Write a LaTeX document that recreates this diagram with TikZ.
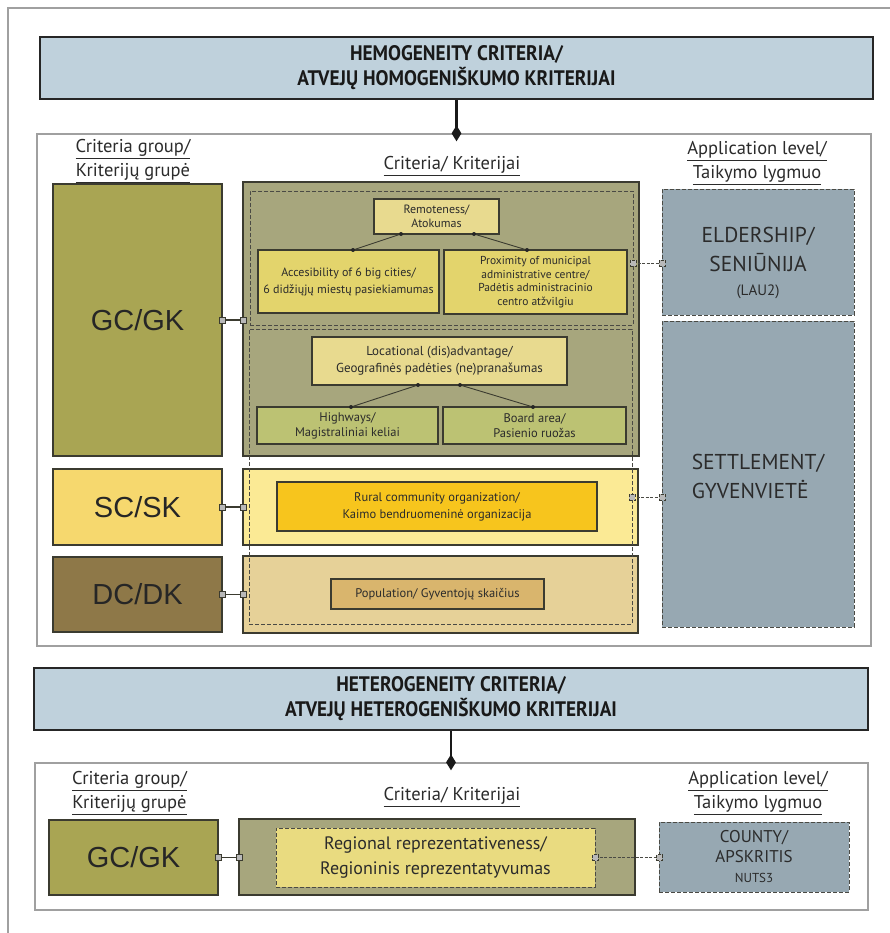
\documentclass[tikz,border=0pt]{standalone}
\usepackage{fontspec}
\setmainfont{PT Sans}
\newfontfamily\hdrfont{PT Sans}[FakeStretch=0.92]
\newfontfamily\arialf{Liberation Sans}
\usetikzlibrary{shapes.geometric,calc}
\definecolor{hdrblue}{HTML}{BFD1DC}
\definecolor{gcol}{HTML}{A9A553}
\definecolor{gcrit}{HTML}{A7A67D}
\definecolor{remc}{HTML}{E8DA8F}
\definecolor{accc}{HTML}{E3D46C}
\definecolor{hwc}{HTML}{BCC273}
\definecolor{scol}{HTML}{F6D86E}
\definecolor{scrit}{HTML}{FBEA95}
\definecolor{rural}{HTML}{F7C51D}
\definecolor{dcol}{HTML}{8E7848}
\definecolor{dcrit}{HTML}{E6D198}
\definecolor{popc}{HTML}{D9B56D}
\definecolor{lvl}{HTML}{97A8B2}
\definecolor{regc}{HTML}{E9DB80}
\definecolor{bord}{HTML}{3B3B30}
\definecolor{txt}{HTML}{2B2B2B}
\definecolor{framec}{HTML}{A0A0A0}
\definecolor{dgray}{HTML}{4A4A44}
\tikzset{
  box/.style={rectangle, draw=bord, line width=1.3pt, inner sep=0pt, outer sep=0pt, align=center, text=txt},
  hdrbox/.style={rectangle, draw=black!85, line width=2.2pt, fill=hdrblue, inner sep=0pt, align=center,
     font=\hdrfont\bfseries\fontsize{21}{25}\selectfont, text=black!90},
  contbox/.style={rectangle, draw=framec, line width=1.3pt, fill=white, inner sep=0pt},
  dashbox/.style={rectangle, draw=dgray, line width=0.8pt, dash pattern=on 4pt off 2pt, inner sep=0pt, outer sep=0pt, align=center, text=txt},
  lbl/.style={align=center, text=txt, inner sep=0pt, font=\fontsize{18.5}{24}\selectfont},
  grp/.style={font=\arialf\fontsize{29}{32}\selectfont, text=black!85},
  small/.style={font=\fontsize{12.5}{15}\selectfont},
  lvltext/.style={font=\fontsize{21.5}{29}\selectfont},
  sq/.style={rectangle, draw=bord, fill=gray!55, line width=0.9pt, minimum size=6pt, inner sep=0pt},
  dotm/.style={circle, fill=black!85, minimum size=4pt, inner sep=0pt},
  dia/.style={diamond, fill=black!90, inner sep=0pt, minimum width=10pt, minimum height=16pt},
  hline/.style={draw=black!90, line width=2.3pt},
  sline/.style={draw=bord, line width=1.6pt},
  dline/.style={draw=dgray, line width=0.8pt, dash pattern=on 3pt off 1.5pt},
  tline/.style={draw=bord, line width=0.9pt}
}
\begin{document}
\begin{tikzpicture}[x=1pt,y=-1pt]
\useasboundingbox (0,0) rectangle (890,933);
\fill[white] (0,0) rectangle (890,933);
\draw[framec, line width=1.2pt] (8,933) -- (8,8) -- (890,8);

% ---------- homogeneity ----------
\node[hdrbox, minimum width=833pt, minimum height=62pt] (h1) at (456.5,68) {HEMOGENEITY CRITERIA/\\ATVEJŲ HOMOGENIŠKUMO KRITERIJAI};
\node[contbox, minimum width=834pt, minimum height=512pt] (c1) at (454,390) {};
\node[dia] (dm1) at (h1.south |- c1.north) {};
\draw[hline] (h1.south) -- (dm1.center);

\node[lbl] (grp1) at (133,161) {\underline{Criteria group/}\\\underline{Kriterijų grupė}};
\node[lbl] (crit1) at (452,166) {\underline{Criteria/ Kriterijai}};
\node[lbl] (app1) at (757,163) {\underline{Application level/}\\\underline{Taikymo lygmuo}};

% criteria groups
\node[box, fill=gcol, minimum width=169pt, minimum height=272pt, grp] (gc) at (137.5,320) {GC/GK};
\node[box, fill=scol, minimum width=169pt, minimum height=76pt, grp] (sc) at (137.5,507) {SC/SK};
\node[box, fill=dcol, minimum width=169pt, minimum height=75pt, grp] (dc) at (137.5,594.5) {DC/DK};

% criteria
\node[box, fill=gcrit, minimum width=396pt, minimum height=274pt] (gcr) at (441,319) {};
\node[box, fill=scrit, minimum width=395pt, minimum height=76pt] (scr) at (440.5,507) {};
\node[box, fill=dcrit, minimum width=395pt, minimum height=77pt] (dcr) at (440.5,594.5) {};
\node[dashbox, minimum width=383pt, minimum height=134pt] (du) at (441.5,258) {};
\node[dashbox, minimum width=383pt, minimum height=295pt] (dl) at (440.5,476.5) {};

\node[box, fill=remc, minimum width=125pt, minimum height=35pt, font=\fontsize{12}{14}\selectfont] (rem) at (436.5,216.5) {Remoteness/\\Atokumas};
\node[box, fill=accc, minimum width=181pt, minimum height=63pt, font=\fontsize{12}{17}\selectfont] (acc) at (348.5,281.5) {Accesibility of 6 big cities/\\6 didžiųjų miestų pasiekiamumas};
\node[box, fill=accc, minimum width=183pt, minimum height=64pt, font=\fontsize{11.5}{13.7}\selectfont] (prox) at (535.5,282) {Proximity of municipal\\administrative centre/\\Padėtis administracinio\\centro atžvilgiu};
\node[box, fill=remc, minimum width=255pt, minimum height=48pt, font=\fontsize{13}{17}\selectfont] (loc) at (439.5,361) {Locational (dis)advantage/\\Geografinės padėties (ne)pranašumas};
\node[box, fill=hwc, minimum width=181pt, minimum height=37pt, small] (hw) at (347.5,425.5) {Highways/\\Magistraliniai keliai};
\node[box, fill=hwc, minimum width=183pt, minimum height=37pt, small] (bd) at (534.5,425.5) {Board area/\\Pasienio ruožas};
\node[box, fill=rural, minimum width=320pt, minimum height=49pt, font=\fontsize{12.5}{17}\selectfont] (rur) at (437,506.5) {Rural community organization/\\Kaimo bendruomeninė organizacija};
\node[box, fill=popc, minimum width=213pt, minimum height=30pt, small] (pop) at (437.5,594) {Population/ Gyventojų skaičius};

% hierarchy connectors
\draw[tline] ([xshift=27pt]rem.south west) node[dotm]{} -- ([xshift=95pt]acc.north west) node[dotm]{};
\draw[tline] ([xshift=100pt]rem.south west) node[dotm]{} -- ([xshift=83pt]prox.north west) node[dotm]{};
\draw[tline] ([xshift=106pt]loc.south west) node[dotm]{} -- ([xshift=94pt]hw.north west) node[dotm]{};
\draw[tline] ([xshift=148pt]loc.south west) node[dotm]{} -- ([xshift=90pt]bd.north west) node[dotm]{};

% application level
\node[dashbox, fill=lvl, minimum width=192pt, minimum height=126pt] (eld) at (758,252) {};
\node[lvltext, text=txt, align=center] (eldt) at (758,263) {ELDERSHIP/\\SENIŪNIJA\\[-5pt]{\fontsize{15}{18}\selectfont (LAU2)}};
\node[dashbox, fill=lvl, minimum width=192pt, minimum height=306pt] (set) at (758,474) {};
\node[lvltext, text=txt, align=left] (sett) at (758,476) {SETTLEMENT/\\GYVENVIETĖ};

% group -> criteria connectors
\draw[sline] (gc.east) node[sq]{} -- (gc.east -| gcr.west) node[sq]{};
\draw[sline] (sc.east) node[sq]{} -- (sc.east -| scr.west) node[sq]{};
\draw[sline] (dc.east) node[sq]{} -- (dc.east -| dcr.west) node[sq]{};
% criteria -> level connectors
\draw[dline] ([yshift=-5pt]du.east) node[sq]{} -- ([yshift=-5pt]du.east -| eld.west) node[sq]{};
\draw[dline] ([yshift=-20.5pt]dl.east) node[sq]{} -- ([yshift=-20.5pt]dl.east -| set.west) node[sq]{};

% ---------- heterogeneity ----------
\node[hdrbox, minimum width=834pt, minimum height=62pt] (h2) at (451,699) {HETEROGENEITY CRITERIA/\\ATVEJŲ HETEROGENIŠKUMO KRITERIJAI};
\node[contbox, minimum width=833pt, minimum height=147pt] (c2) at (451.5,836.5) {};
\node[dia] (dm2) at (h2.south |- c2.north) {};
\draw[hline] (h2.south) -- (dm2.center);

\node[lbl] (grp2) at (129.5,793) {\underline{Criteria group/}\\\underline{Kriterijų grupė}};
\node[lbl] (crit2) at (452,797) {\underline{Criteria/ Kriterijai}};
\node[lbl] (app2) at (758,793) {\underline{Application level/}\\\underline{Taikymo lygmuo}};

\node[box, fill=gcol, minimum width=169pt, minimum height=75pt, grp] (gc2) at (133.5,857.5) {GC/GK};
\node[box, fill=gcrit, minimum width=396pt, minimum height=76pt] (gcr2) at (437,857) {};
\node[dashbox, fill=regc, minimum width=319pt, minimum height=59pt, font=\fontsize{18}{25}\selectfont] (reg) at (435.5,857.5) {Regional reprezentativeness/\\Regioninis reprezentatyvumas};
\node[dashbox, fill=lvl, minimum width=190pt, minimum height=70pt, font=\fontsize{17}{20}\selectfont] (cty) at (754,857) {COUNTY/\\APSKRITIS\\{\fontsize{13}{15}\selectfont NUTS3}};

\draw[sline] (gc2.east) node[sq]{} -- (gc2.east -| gcr2.west) node[sq]{};
\draw[dline] (reg.east) node[sq]{} -- (reg.east -| cty.west) node[sq]{};
\end{tikzpicture}
\end{document}
